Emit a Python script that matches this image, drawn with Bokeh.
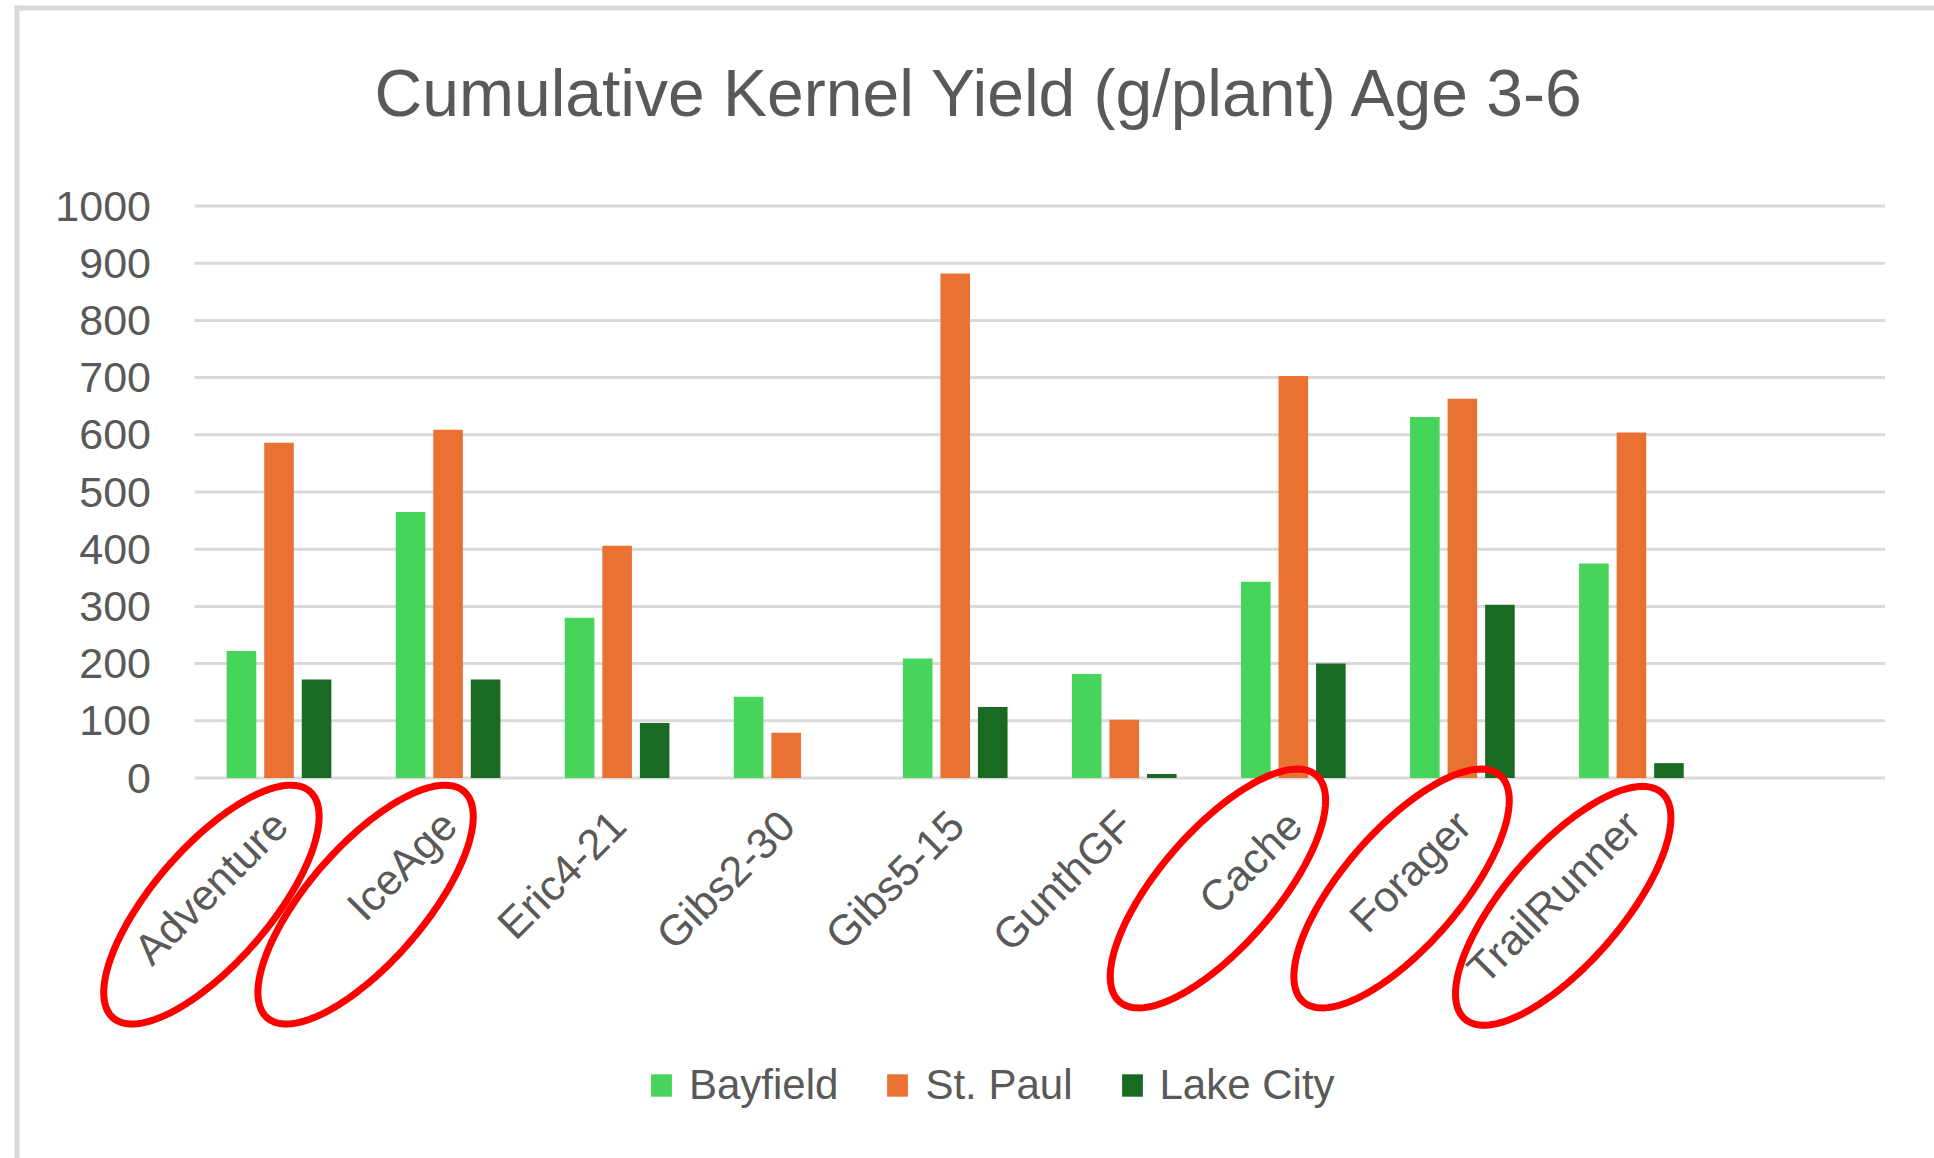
import math
import numpy as np
from bokeh.plotting import figure
from bokeh.models import (Range1d, Legend, LegendItem, PolyAnnotation,
                          BoxAnnotation, ColumnDataSource)
from bokeh.core.properties import value
from bokeh.embed import file_html
from bokeh.resources import INLINE

# ---------------- data ----------------
categories = ["Adventure", "IceAge", "Eric4-21", "Gibs2-30", "Gibs5-15",
              "GunthGF", "Cache", "Forager", "TrailRunner"]
bayfield = [222, 465, 280, 142, 209, 182, 343, 631, 375]
st_paul = [586, 609, 406, 79, 882, 102, 703, 663, 604]
lake_city = [172, 172, 96, 0, 124, 7, 200, 303, 26]
series_names = ["Bayfield", "St. Paul", "Lake City"]
y_ticks = [0, 100, 200, 300, 400, 500, 600, 700, 800, 900, 1000]
y_tick_labels = [str(v) for v in y_ticks]
title_text = "Cumulative Kernel Yield (g/plant) Age 3-6"
highlighted = ["Adventure", "IceAge", "Cache", "Forager", "TrailRunner"]

# ---------------- style / layout (pixels) ----------------
colors = ["#47D45A", "#E97132", "#196B24"]
text_color = "#595959"
grid_color = "#D9D9D9"
FONT = "Liberation Sans"
W, H = 1934, 1158
X0, X1 = 194.0, 1884.5        # plot area left / right
Y0, YTOP = 777.5, 205.5       # pixel of value 0 / value 1000
n_slots = len(categories) + 1  # Excel leaves one empty slot at the right
XPU = (X1 - X0) / n_slots
YPU = (Y0 - YTOP) / 1000.0


def dxp(px):
    return (px - X0) / XPU


def dyp(py):
    return (Y0 - py) / YPU


p = figure(width=W, height=H,
           x_range=Range1d(dxp(0), dxp(W)), y_range=Range1d(dyp(H), dyp(0)),
           output_backend="svg", toolbar_location=None,
           min_border_left=0, min_border_right=0,
           min_border_top=0, min_border_bottom=0)
p.axis.visible = False
p.grid.visible = False
p.outline_line_color = None
p.background_fill_color = "white"
p.border_fill_color = "white"

idx = np.arange(len(categories))
centers = idx + 0.5

# chart border (top and left edge)
p.add_layout(BoxAnnotation(left=dxp(14), right=dxp(W), top=dyp(5), bottom=dyp(10),
                           fill_color=grid_color, fill_alpha=1, line_color=None))
p.add_layout(BoxAnnotation(left=dxp(14), right=dxp(19), top=dyp(5), bottom=dyp(H),
                           fill_color=grid_color, fill_alpha=1, line_color=None))

# gridlines
p.segment(x0=0, x1=n_slots, y0=y_ticks, y1=y_ticks,
          line_color=grid_color, line_width=3)

# y tick labels
p.text(x=dxp(150.5), y=y_ticks, text=y_tick_labels,
       text_align="right", text_baseline="middle",
       text_font=value(FONT), text_font_size="43px", text_color=text_color)

# bars
bw, off = 0.175, 0.222
src = ColumnDataSource(dict(x=centers, Bayfield=bayfield,
                            StPaul=st_paul, LakeCity=lake_city))
renderers = []
for k, (fld, col) in enumerate(zip(["Bayfield", "StPaul", "LakeCity"], colors)):
    r = p.vbar(x=centers + (k - 1) * off, top=src.data[fld], width=bw,
               fill_color=col, line_color=None)
    renderers.append(r)

# category labels (rotated 45 degrees)
p.text(x=centers + 1 / XPU, y=-40 / YPU, text=categories, angle=math.pi / 4,
       text_align="right", text_baseline="middle",
       text_font=value(FONT), text_font_size="43px", text_color=text_color)

# title
p.text(x=[dxp(980)], y=[dyp(92.5)], text=[title_text],
       text_align="center", text_baseline="middle",
       text_font=value(FONT), text_font_size="66px", text_color=text_color)

# legend
legend = Legend(items=[LegendItem(label=n, renderers=[r])
                       for n, r in zip(series_names, renderers)],
                orientation="horizontal", location=(648, 49),
                glyph_width=26, glyph_height=28, label_standoff=15,
                spacing=46, padding=0, margin=0,
                border_line_color=None, background_fill_alpha=0,
                label_text_font_size="42px", label_text_color=text_color,
                label_text_font=FONT)
p.add_layout(legend, "center")

# red hand-drawn highlight ellipses around selected labels (px offsets)
ell_offsets = {"Adventure": (-67.6, 126.6), "IceAge": (-82.5, 126.6),
               "Cache": (-75.4, 110.5), "Forager": (-60.8, 110.5),
               "TrailRunner": (-68.2, 127.8)}
A, B, th = 150.0, 58.0, math.radians(49)
t = np.linspace(0, 2 * math.pi, 120)
for name in highlighted:
    i = categories.index(name)
    ox, oy = ell_offsets[name]
    cx = (i + 0.5) * XPU + ox
    cy = -oy
    ex = cx + A * np.cos(t) * math.cos(th) - B * np.sin(t) * math.sin(th)
    ey = cy + A * np.cos(t) * math.sin(th) + B * np.sin(t) * math.cos(th)
    p.add_layout(PolyAnnotation(xs=list(ex / XPU), ys=list(ey / YPU),
                                fill_alpha=0, line_color="#FF0000",
                                line_alpha=1, line_width=7))

open("out.html", "w").write(file_html(p, INLINE))
